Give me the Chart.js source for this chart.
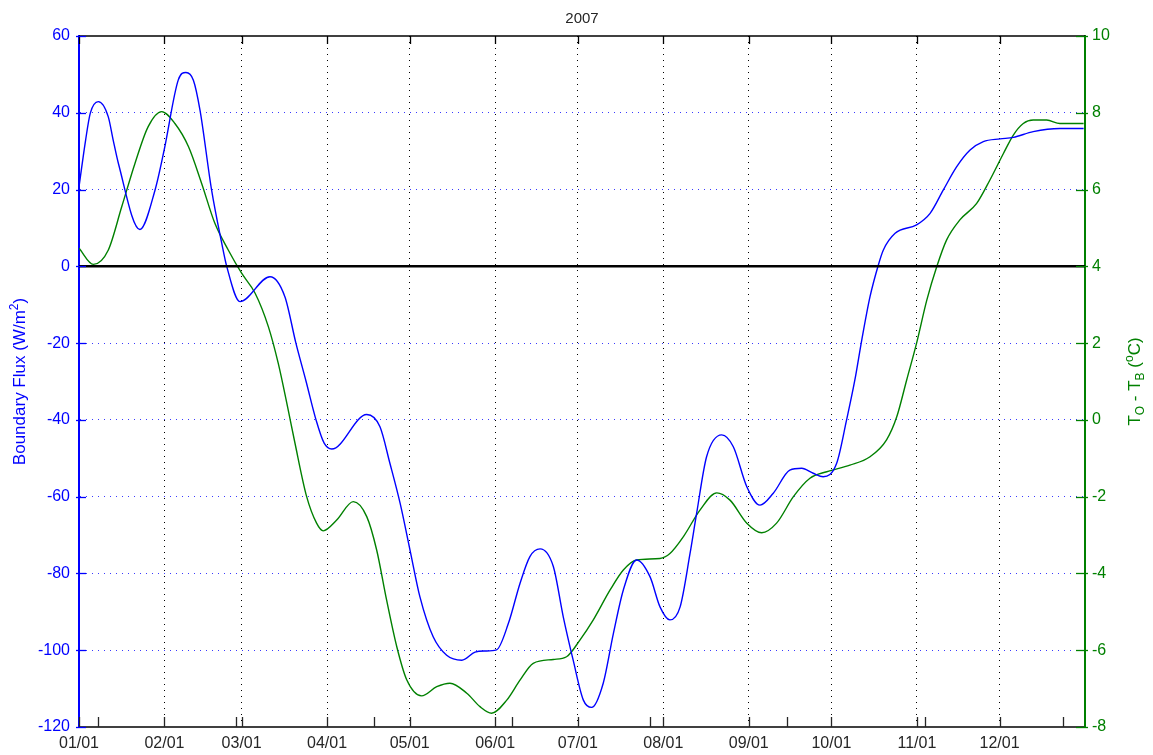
<!DOCTYPE html>
<html>
<head>
<meta charset="utf-8">
<title>Boundary flux and temperature difference, 2007</title>
<script src="https://cdn.jsdelivr.net/npm/chart.js@4.4.1/dist/chart.umd.min.js"></script>
<style>
  html, body { margin: 0; padding: 0; background: #ffffff; }
  #wrap { width: 1153px; height: 755px; position: relative; }
</style>
</head>
<body>
<div id="wrap"><canvas id="chart" width="1153" height="755"></canvas></div>
<script>
// Day of year (0 = 1 January 2007) and values for each series
const fluxDays = [0, 2.4, 4.1, 7.0, 10.6, 12.4, 14.3, 22.1, 27.6, 30.9, 36.0, 38.8, 41.5, 43.9, 48.1, 51.8, 53.6, 58.4, 69.3, 74.7, 78.7, 82.4, 86.0, 88.9, 91.7,
  104.4, 109.2, 112.8, 116.5, 120.1, 123.7, 128.5, 133.4, 138.9, 143.7, 147.3, 151.5, 155.8, 160.0, 163.6, 167.3,
  172.1, 175.7, 179.3, 183.0, 186.0, 190.2, 193.9, 197.5, 202.3, 207.2, 210.8, 214.4, 218.1, 221.7, 224.1, 227.7,
  233.2, 237.4, 242.3, 247.1, 251.9, 257.9, 262.2, 266.4, 270.0, 274.9, 278.5, 281.5, 284.0, 287.0, 290.0, 291.8,
  296.1, 303.9, 308.8, 313.6, 318.4, 323.3, 328.1, 334.2, 339.0, 346.2, 355.9, 364.5];
const fluxValues = [20.7, 32.9, 39.9, 42.9, 39.0, 32.9, 26.8, 9.6, 19.9, 30.3, 48.5, 50.5, 48.5, 40.7, 19.9, 6.0, 0.0, -9.2, -2.7, -7.9, -20.0, -30.0, -40.0, -46.0, -47.6,
  -38.6, -41.8, -51.3, -61.7, -73.9, -86.1, -96.5, -101.3, -102.6, -100.5, -100.2, -99.9, -93.0, -82.6, -75.6, -73.6,
  -78.2, -91.3, -102.6, -113.0, -114.9, -108.6, -95.6, -84.3, -76.5, -80.9, -88.7, -92.1, -88.7, -74.8, -64.3, -49.6,
  -43.9, -47.0, -57.4, -62.2, -59.1, -53.1, -52.6, -53.9, -54.8, -51.3, -40.0, -29.6, -19.2, -7.9, 0.3, 4.2,
  8.6, 10.8, 13.8, 19.9, 25.9, 30.3, 32.5, 33.2, 33.6, 35.1, 35.9, 35.9];

const tempDays = [0, 5.2, 10.6, 15.5, 20.3, 25.1, 30.0, 34.8, 39.7, 44.5, 49.3, 54.2, 59.0, 63.9, 68.7, 72.3, 75.9, 78.2,
  82.6, 86.2, 88.6, 93.5, 99.5, 104.4, 108.0, 111.6, 115.3, 118.9, 124.3, 129.8, 134.6, 140.7, 145.5, 149.7, 155.2,
  160.0, 164.8, 172.1, 176.9, 181.8, 186.6, 192.7, 197.5, 202.3, 210.8, 214.4, 219.3, 225.3, 231.4, 236.2, 242.3,
  247.7, 253.1, 259.2, 265.2, 271.3, 279.7, 287.0, 293.0, 296.7, 300.3, 303.9, 307.6, 311.2, 314.8, 319.6, 325.7,
  330.5, 335.4, 339.0, 342.6, 346.2, 351.1, 355.9, 364.5];
const tempValues = [4.47, 4.05, 4.42, 5.55, 6.68, 7.64, 8.03, 7.72, 7.12, 6.16, 5.12, 4.42, 3.82, 3.30, 2.43, 1.47, 0.26, -0.55,
  -2.0, -2.69, -2.89, -2.61, -2.13, -2.52, -3.39, -4.69, -5.91, -6.77, -7.19, -6.95, -6.86, -7.12, -7.47, -7.64, -7.30,
  -6.78, -6.34, -6.24, -6.17, -5.73, -5.21, -4.43, -3.91, -3.65, -3.61, -3.48, -3.04, -2.35, -1.90, -2.09, -2.69,
  -2.94, -2.69, -2.00, -1.52, -1.35, -1.18, -0.96, -0.52, 0.08, 1.04, 2.0, 3.12, 3.99, 4.69, 5.21, 5.64,
  6.25, 6.94, 7.42, 7.72, 7.81, 7.81, 7.72, 7.72];

// Reference line at zero flux
const zeroLineDays = [0, 365];
const zeroLineValues = [0, 0];

// Date axis: first day of each month, plus the plain tick marks every 50 serial days
const monthDays = [0, 31, 59, 90, 120, 151, 181, 212, 243, 273, 304, 334];
const monthLabels = ['01/01', '02/01', '03/01', '04/01', '05/01', '06/01', '07/01', '08/01', '09/01', '10/01', '11/01', '12/01'];
const extraTickDays = [7, 57, 107, 157, 207, 257, 307, 357];

const fluxTicks = [-120, -100, -80, -60, -40, -20, 0, 20, 40, 60];
const tempTicks = [-8, -6, -4, -2, 0, 2, 4, 6, 8, 10];

const chartTitle = '2007';

const FONT = '"Liberation Sans", Arial, Helvetica, sans-serif';
const BLUE = '#0000ff';
const GREEN = '#008000';
const AXIS = '#262626';

const toPoints = (xs, ys) => xs.map((x, i) => ({ x: x, y: ys[i] }));

// Inward tick marks, top frame line, title and axis titles
const framePlugin = {
  id: 'frame',
  afterDraw(chart) {
    const { ctx, chartArea: a, scales } = chart;
    const xs = scales.x, yl = scales.y, yr = scales.y2;
    ctx.save();

    // top frame line
    ctx.strokeStyle = '#000000';
    ctx.lineWidth = 1.5;
    ctx.beginPath();
    ctx.moveTo(a.left, a.top);
    ctx.lineTo(a.right, a.top);
    ctx.stroke();

    // bottom ticks (month starts and 50-day marks)
    ctx.lineWidth = 1.3;
    ctx.strokeStyle = AXIS;
    xs.ticks.forEach(t => {
      const px = Math.round(xs.getPixelForValue(t.value)) + 0.5;
      ctx.beginPath();
      ctx.moveTo(px, a.bottom);
      ctx.lineTo(px, a.bottom - 10);
      ctx.stroke();
    });
    // top ticks (month starts only)
    ctx.strokeStyle = '#000000';
    monthDays.forEach(d => {
      const px = Math.round(xs.getPixelForValue(d)) + 0.5;
      ctx.beginPath();
      ctx.moveTo(px, a.top);
      ctx.lineTo(px, a.top + 8);
      ctx.stroke();
    });
    // left ticks
    ctx.strokeStyle = BLUE;
    yl.ticks.forEach(t => {
      const py = Math.round(yl.getPixelForValue(t.value)) + 0.5;
      ctx.beginPath();
      ctx.moveTo(a.left - 3, py);
      ctx.lineTo(a.left + 7, py);
      ctx.stroke();
    });
    // right ticks
    ctx.strokeStyle = GREEN;
    yr.ticks.forEach(t => {
      const py = Math.round(yr.getPixelForValue(t.value)) + 0.5;
      ctx.beginPath();
      ctx.moveTo(a.right - 9, py);
      ctx.lineTo(a.right + 3, py);
      ctx.stroke();
    });

    // title
    ctx.fillStyle = AXIS;
    ctx.font = '15px ' + FONT;
    ctx.textAlign = 'center';
    ctx.textBaseline = 'alphabetic';
    ctx.fillText(chartTitle, (a.left + a.right) / 2, 23);

    // left axis title: Boundary Flux (W/m^2)
    const midY = (a.top + a.bottom) / 2;
    const big = '17px ' + FONT, small = '12px ' + FONT;
    ctx.textAlign = 'left';
    ctx.save();
    ctx.translate(25, midY);
    ctx.rotate(-Math.PI / 2);
    ctx.fillStyle = BLUE;
    const lParts = [['Boundary Flux (W/m', big, 0], ['2', small, -7], [')', big, 0]];
    let w = 0;
    lParts.forEach(p => { ctx.font = p[1]; w += ctx.measureText(p[0]).width; });
    let cx = -w / 2;
    lParts.forEach(p => { ctx.font = p[1]; ctx.fillText(p[0], cx, p[2]); cx += ctx.measureText(p[0]).width; });
    ctx.restore();

    // right axis title: T_O - T_B (^oC)
    ctx.save();
    ctx.translate(1140, midY);
    ctx.rotate(-Math.PI / 2);
    ctx.fillStyle = GREEN;
    const rParts = [['T', big, 0], ['O', small, 4], [' - T', big, 0], ['B', small, 4], [' (', big, 0], ['o', small, -7], ['C)', big, 0]];
    w = 0;
    rParts.forEach(p => { ctx.font = p[1]; w += ctx.measureText(p[0]).width; });
    cx = -w / 2;
    rParts.forEach(p => { ctx.font = p[1]; ctx.fillText(p[0], cx, p[2]); cx += ctx.measureText(p[0]).width; });
    ctx.restore();

    ctx.restore();
  }
};

new Chart(document.getElementById('chart'), {
  type: 'line',
  data: {
    datasets: [
      {
        label: 'Zero',
        data: toPoints(zeroLineDays, zeroLineValues),
        yAxisID: 'y',
        borderColor: '#000000',
        borderWidth: 2.5,
        pointRadius: 0,
        tension: 0
      },
      {
        label: 'Boundary Flux',
        data: toPoints(fluxDays, fluxValues),
        yAxisID: 'y',
        borderColor: BLUE,
        borderWidth: 1.4,
        pointRadius: 0,
        cubicInterpolationMode: 'monotone'
      },
      {
        label: 'To - Tb',
        data: toPoints(tempDays, tempValues),
        yAxisID: 'y2',
        borderColor: GREEN,
        borderWidth: 1.4,
        pointRadius: 0,
        cubicInterpolationMode: 'monotone'
      }
    ]
  },
  options: {
    responsive: false,
    animation: false,
    events: [],
    layout: { padding: { top: 36, left: 0, right: 0, bottom: 0 } },
    plugins: {
      legend: { display: false },
      title: { display: false },
      tooltip: { enabled: false }
    },
    scales: {
      x: {
        type: 'linear',
        position: 'bottom',
        min: 0,
        max: 365,
        afterBuildTicks(scale) {
          const vals = monthDays.concat(extraTickDays).sort((p, q) => p - q);
          scale.ticks = vals.map(v => ({ value: v }));
        },
        afterFit(scale) { scale.height = 28; },
        ticks: {
          autoSkip: false,
          maxRotation: 0,
          padding: 7,
          color: AXIS,
          font: { family: FONT, size: 16 },
          callback(value) {
            const i = monthDays.indexOf(value);
            return i >= 0 ? monthLabels[i] : '';
          }
        },
        grid: {
          drawTicks: false,
          lineWidth: 1,
          color(ctx) {
            const v = ctx.tick ? ctx.tick.value : null;
            return (v !== null && monthDays.indexOf(v) > 0) ? '#000000' : 'rgba(0,0,0,0)';
          }
        },
        border: { display: true, color: '#404040', width: 2, dash: [1, 5] }
      },
      y: {
        type: 'linear',
        position: 'left',
        min: -120,
        max: 60,
        afterBuildTicks(scale) { scale.ticks = fluxTicks.map(v => ({ value: v })); },
        afterFit(scale) { scale.width = 79; },
        ticks: {
          padding: 9,
          color: BLUE,
          font: { family: FONT, size: 16 }
        },
        grid: {
          drawTicks: false,
          lineWidth: 1,
          color(ctx) {
            const v = ctx.tick ? ctx.tick.value : null;
            return (v === -120 || v === 60 || v === 0) ? 'rgba(0,0,0,0)' : '#3a3aff';
          }
        },
        border: { display: true, color: BLUE, width: 2, dash: [1, 5] }
      },
      y2: {
        type: 'linear',
        position: 'right',
        min: -8,
        max: 10,
        afterBuildTicks(scale) { scale.ticks = tempTicks.map(v => ({ value: v })); },
        afterFit(scale) { scale.width = 68; },
        ticks: {
          padding: 7,
          color: GREEN,
          font: { family: FONT, size: 16 }
        },
        grid: { drawOnChartArea: false, drawTicks: false },
        border: { display: true, color: GREEN, width: 2 }
      }
    }
  },
  plugins: [framePlugin]
});
</script>
</body>
</html>
